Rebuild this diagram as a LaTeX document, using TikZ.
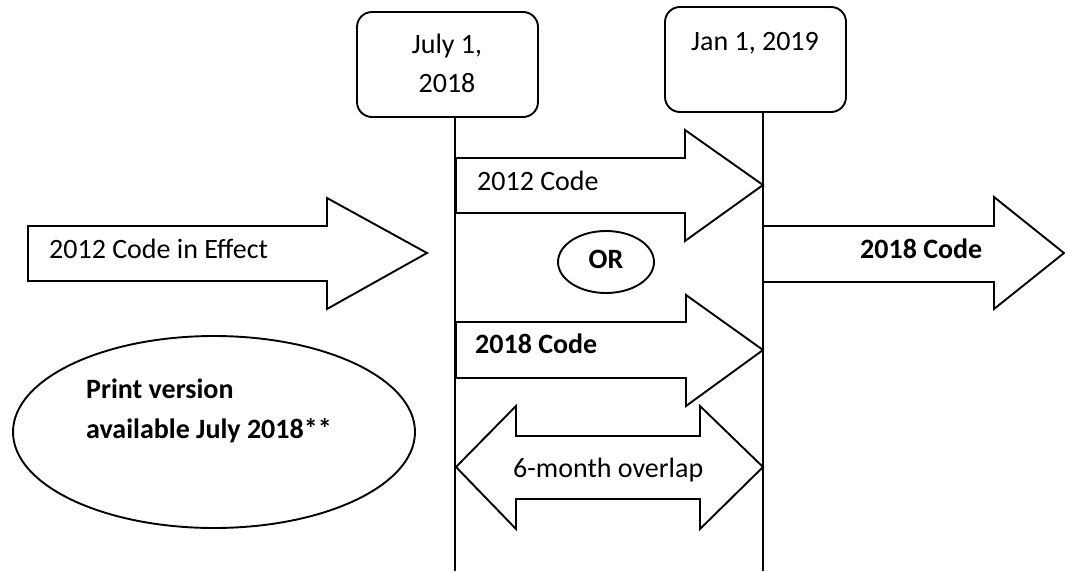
\documentclass[tikz,border=0pt]{standalone}
\usepackage{fontspec}
\setmainfont{Carlito}
\usetikzlibrary{shapes.geometric}
\tikzset{
  txt/.style={font=\fontsize{28}{39}\selectfont, inner sep=0pt},
  btxt/.style={txt, font=\fontsize{28}{39}\selectfont\bfseries},
  datebox/.style={draw, line width=1.9pt, rounded corners=15pt, minimum width=181pt, minimum height=105pt, inner sep=0pt},
  blk/.style={draw, line width=1.9pt, line join=miter, fill=white},
  tl/.style={draw, line width=1.9pt},
  oval/.style={draw, ellipse, line width=1.9pt, inner sep=0pt}
}
\begin{document}
\begin{tikzpicture}[x=1pt, y=-1pt]
\useasboundingbox (0,0) rectangle (1065,571);
% date boxes
\node[datebox] (july) at (447.5,64.5) {};
\node[datebox] (jan) at (755.5,59.5) {};
\node[txt, anchor=base] (julyA) at (447,53) {July 1,};
\node[txt, anchor=base] (julyB) at (447,92) {2018};
\node[txt, anchor=base] (jant) at (755,50) {Jan 1, 2019};
% timeline coordinates
\coordinate (jtop) at (455,117);
\coordinate (jbot) at (455,571);
\coordinate (ntop) at (763,112);
\coordinate (nbot) at (763,571);
% block arrows
\draw[blk] (28,226) -- (327,226) -- (327,198) -- (427,253) -- (327,309) -- (327,281) -- (28,281) -- cycle;
\draw[blk] (456,158) -- (685,158) -- (685,130) -- (763,185) -- (685,241) -- (685,213) -- (456,213) -- cycle;
\draw[blk] (456,322) -- (686,322) -- (686,295) -- (763,350) -- (686,406) -- (686,378) -- (456,378) -- cycle;
\draw[blk] (456,467) -- (516,406) -- (516,436) -- (700,436) -- (700,406) -- (763,467) -- (700,529) -- (700,499) -- (516,499) -- (516,529) -- cycle;
\draw[blk] (763,226) -- (994,226) -- (994,197) -- (1064,253) -- (994,309) -- (994,282) -- (763,282) -- cycle;
% timelines
\draw[tl] (jtop) -- (jbot);
\draw[tl] (ntop) -- (nbot);
% ellipses
\node[oval, minimum width=96pt, minimum height=62pt] (orov) at (606,262) {};
\node[oval, minimum width=402pt, minimum height=192pt] (print) at (214,432) {};
% labels
\node[txt, anchor=base west] (l1) at (477,190) {2012 Code};
\node[txt, anchor=base west] (l0) at (49,258) {2012 Code in Effect};
\node[btxt, anchor=base] (lor) at (606,268) {OR};
\node[btxt, anchor=base west] (l2) at (475,353) {2018 Code};
\node[txt, anchor=base west] (l3) at (513,477) {6-month overlap};
\node[btxt, anchor=base west] (l4) at (860,258) {2018 Code};
\node[btxt, anchor=base west] (p1) at (86,398) {Print version};
\node[btxt, anchor=base west] (p2) at (86,438) {available July 2018**};
\end{tikzpicture}
\end{document}
